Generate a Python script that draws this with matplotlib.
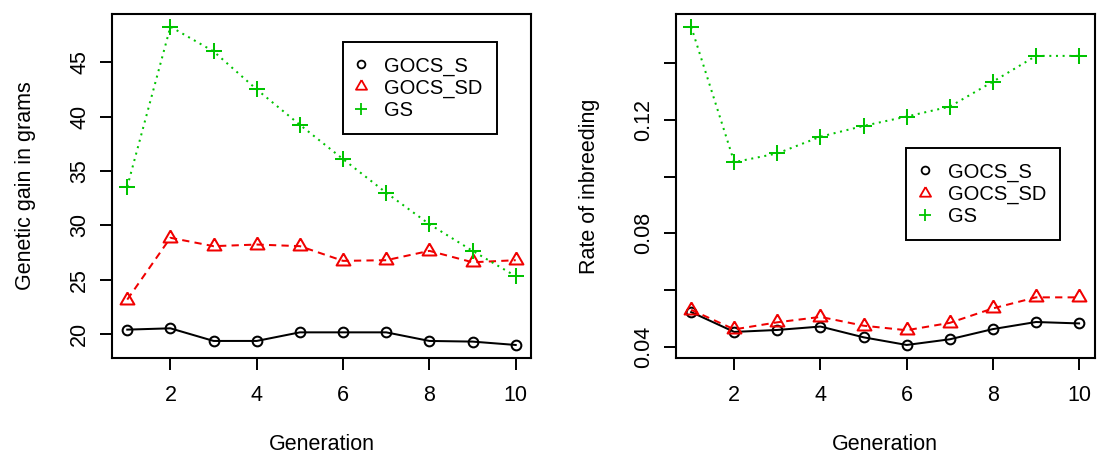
import numpy as np
import matplotlib
matplotlib.use("Agg")
import matplotlib.pyplot as plt
from matplotlib.lines import Line2D

plt.rcParams['font.family'] = ['Liberation Sans', 'DejaVu Sans']

generation = [1, 2, 3, 4, 5, 6, 7, 8, 9, 10]

# genetic gain (grams)
gain_gocs_s = [20.43, 20.55, 19.39, 19.39, 20.18, 20.18, 20.18, 19.39, 19.33, 19.02]
gain_gocs_sd = [23.19, 28.87, 28.10, 28.25, 28.10, 26.75, 26.81, 27.67, 26.62, 26.81]
gain_gs = [33.57, 48.27, 46.00, 42.50, 39.25, 36.10, 33.01, 30.12, 27.67, 25.34]

# rate of inbreeding
inb_gocs_s = [0.0522, 0.0452, 0.0459, 0.0471, 0.0433, 0.0406, 0.0426, 0.0462, 0.0487, 0.0482]
inb_gocs_sd = [0.0530, 0.0461, 0.0486, 0.0505, 0.0474, 0.0458, 0.0484, 0.0535, 0.0574, 0.0574]
inb_gs = [0.1529, 0.1051, 0.1082, 0.1141, 0.1179, 0.1212, 0.1247, 0.1335, 0.1426, 0.1426]

labels = ["GOCS_S", "GOCS_SD", "GS"]

gain_yticks = [20, 25, 30, 35, 40, 45]
inb_yticks = [0.04, 0.06, 0.08, 0.10, 0.12, 0.14]
inb_yticklabels = ["0.04", "", "0.08", "", "0.12", ""]
xticks = [2, 4, 6, 8, 10]

RED = "#f00000"
GREEN = "#00c400"
FS = 15.5
LEG_FS = 14.5
LW = 1.45

# triangle with its centroid on the data point (like R pch=2)
TRI = [(0, 1), (-0.866, -0.5), (0.866, -0.5), (0, 1)]

STYLES = [
    dict(color="black", linestyle="-", marker="o", ms=7.0, mfc="none", mew=LW),
    dict(color=RED, linestyle=(0, (3.6, 2.6)), marker=TRI, ms=11.5, mfc="none", mew=LW),
    dict(color=GREEN, linestyle=(0, (1.0, 2.3)), marker="+", ms=11, mew=LW),
]


def r_limits(values):
    lo, hi = min(values), max(values)
    pad = 0.04 * (hi - lo)
    return lo - pad, hi + pad


def draw_panel(ax, series, ylabel, yticks, yticklabels, legend_anchor):
    for ys, st in zip(series, STYLES):
        ax.plot(generation, ys, lw=LW, **st)

    ax.set_xlim(r_limits(generation))
    ax.set_ylim(r_limits([v for s in series for v in s]))
    ax.set_xticks(xticks)
    ax.set_yticks(yticks)
    if yticklabels is not None:
        ax.set_yticklabels(yticklabels)
    for lab in ax.get_yticklabels():
        lab.set_rotation(90)
        lab.set_va("center")

    ax.tick_params(direction="out", length=8.5, width=1.4, labelsize=FS, pad=11)
    ax.tick_params(axis="y", pad=7)
    for sp in ax.spines.values():
        sp.set_linewidth(1.5)

    ax.set_xlabel("Generation", fontsize=FS, labelpad=20)
    ax.set_ylabel(ylabel, fontsize=FS)
    ax.yaxis.set_label_coords(-0.18, 0.5)

    handles = [Line2D([], [], linestyle="none", marker=st["marker"], color=st["color"],
                      ms=st["ms"] * 0.8, mfc="none", mew=1.3) for st in STYLES]
    leg = ax.legend(handles, labels, loc="upper left", bbox_to_anchor=legend_anchor,
                    fontsize=LEG_FS, frameon=True, fancybox=False, framealpha=1,
                    edgecolor="black", borderpad=0.7, labelspacing=0.15,
                    handlelength=0.4, handletextpad=0.95, borderaxespad=0)
    leg.get_frame().set_linewidth(1.4)


fig = plt.figure(figsize=(11.04, 4.58), dpi=100)
fig.patch.set_facecolor("white")

ax1 = fig.add_axes([0.1012, 0.219, 0.380, 0.7505])
ax2 = fig.add_axes([0.612, 0.219, 0.3795, 0.7505])

draw_panel(ax1, [gain_gocs_s, gain_gocs_sd, gain_gs], "Genetic gain in grams",
           gain_yticks, None, (0.551, 0.918))
draw_panel(ax2, [inb_gocs_s, inb_gocs_sd, inb_gs], "Rate of inbreeding",
           inb_yticks, inb_yticklabels, (0.551, 0.609))

fig.savefig("out.png", dpi=100, facecolor="white")
